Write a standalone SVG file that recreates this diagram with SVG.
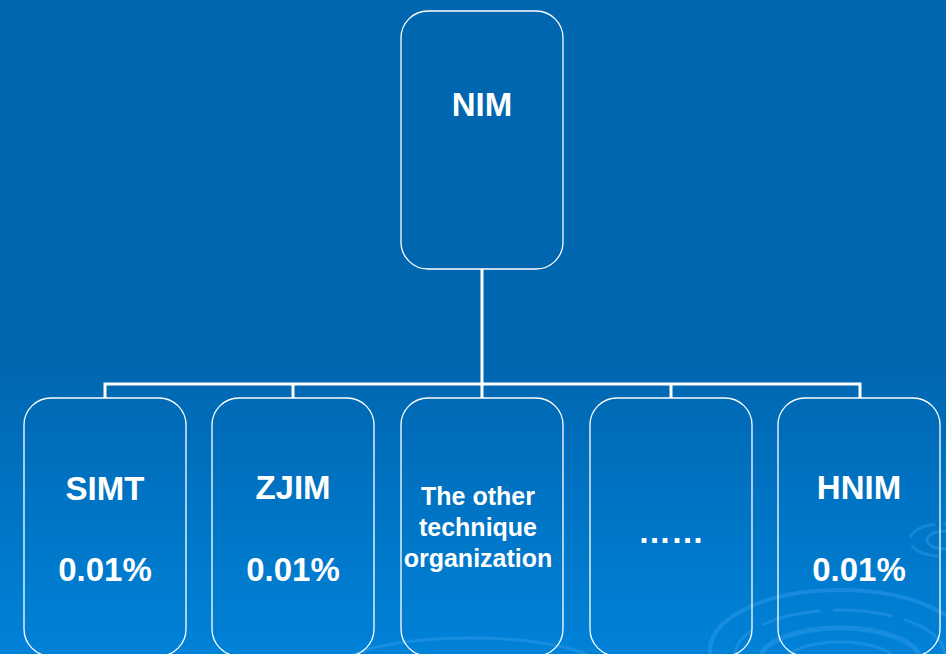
<svg xmlns="http://www.w3.org/2000/svg" width="946" height="654" viewBox="0 0 946 654">
<style>
.box{fill:none;stroke:#ffffff;stroke-width:1.3}
.t{font-family:"Liberation Sans",Arial,sans-serif;font-weight:bold;fill:#ffffff;text-anchor:middle}
.big{font-size:33px}
.mid{font-size:25px}
.conn{fill:none;stroke:#ffffff;stroke-width:3}
.sw{fill:none;stroke:#3aa0ee;stroke-opacity:0.4}
</style>
<defs>
<linearGradient id="bg" x1="0" y1="0" x2="0" y2="654" gradientUnits="userSpaceOnUse">
<stop offset="0" stop-color="#0066b0"/>
<stop offset="0.55" stop-color="#0066b0"/>
<stop offset="1" stop-color="#0082d8"/>
</linearGradient>
</defs>
<rect x="0" y="0" width="946" height="654" fill="url(#bg)"/>
<g id="swirls">
<ellipse class="sw" cx="840" cy="650" rx="130" ry="60" stroke-width="4"/>
<ellipse class="sw" cx="840" cy="655" rx="105" ry="45" stroke-width="3" stroke-dasharray="60 12"/>
<ellipse class="sw" cx="840" cy="660" rx="80" ry="32" stroke-width="5"/>
<ellipse class="sw" cx="840" cy="662" rx="55" ry="20" stroke-width="3"/>
<ellipse class="sw" cx="940" cy="540" rx="30" ry="16" stroke-width="3" stroke-dasharray="30 8"/>
<ellipse class="sw" cx="945" cy="540" rx="18" ry="9" stroke-width="3"/>
<ellipse class="sw" cx="470" cy="668" rx="130" ry="30" stroke-width="3" stroke-opacity="0.3"/>
</g>
<g id="connectors">
<line class="conn" x1="482" y1="269" x2="482" y2="384"/>
<polyline class="conn" points="105,398 105,384 860,384 860,398"/>
<line class="conn" x1="293" y1="384" x2="293" y2="398"/>
<line class="conn" x1="482" y1="384" x2="482" y2="398"/>
<line class="conn" x1="671" y1="384" x2="671" y2="398"/>
</g>
<g id="nim">
<rect class="box" x="401" y="11" width="162" height="258" rx="27"/>
<text class="t big" x="482" y="116">NIM</text>
</g>
<g id="simt">
<rect class="box" x="24" y="398" width="162" height="258" rx="27"/>
<text class="t big" x="105" y="500">SIMT</text>
<text class="t big" x="105" y="581">0.01%</text>
</g>
<g id="zjim">
<rect class="box" x="212" y="398" width="162" height="258" rx="27"/>
<text class="t big" x="293" y="499">ZJIM</text>
<text class="t big" x="293" y="581">0.01%</text>
</g>
<g id="other">
<rect class="box" x="401" y="398" width="162" height="258" rx="27"/>
<text class="t mid" x="478" y="505">The other</text>
<text class="t mid" x="478" y="536">technique</text>
<text class="t mid" x="478" y="567">organization</text>
</g>
<g id="dots">
<rect class="box" x="590" y="398" width="162" height="258" rx="27"/>
<text class="t big" x="671" y="543">……</text>
</g>
<g id="hnim">
<rect class="box" x="778" y="398" width="162" height="258" rx="27"/>
<text class="t big" x="859" y="499">HNIM</text>
<text class="t big" x="859" y="581">0.01%</text>
</g>
</svg>
